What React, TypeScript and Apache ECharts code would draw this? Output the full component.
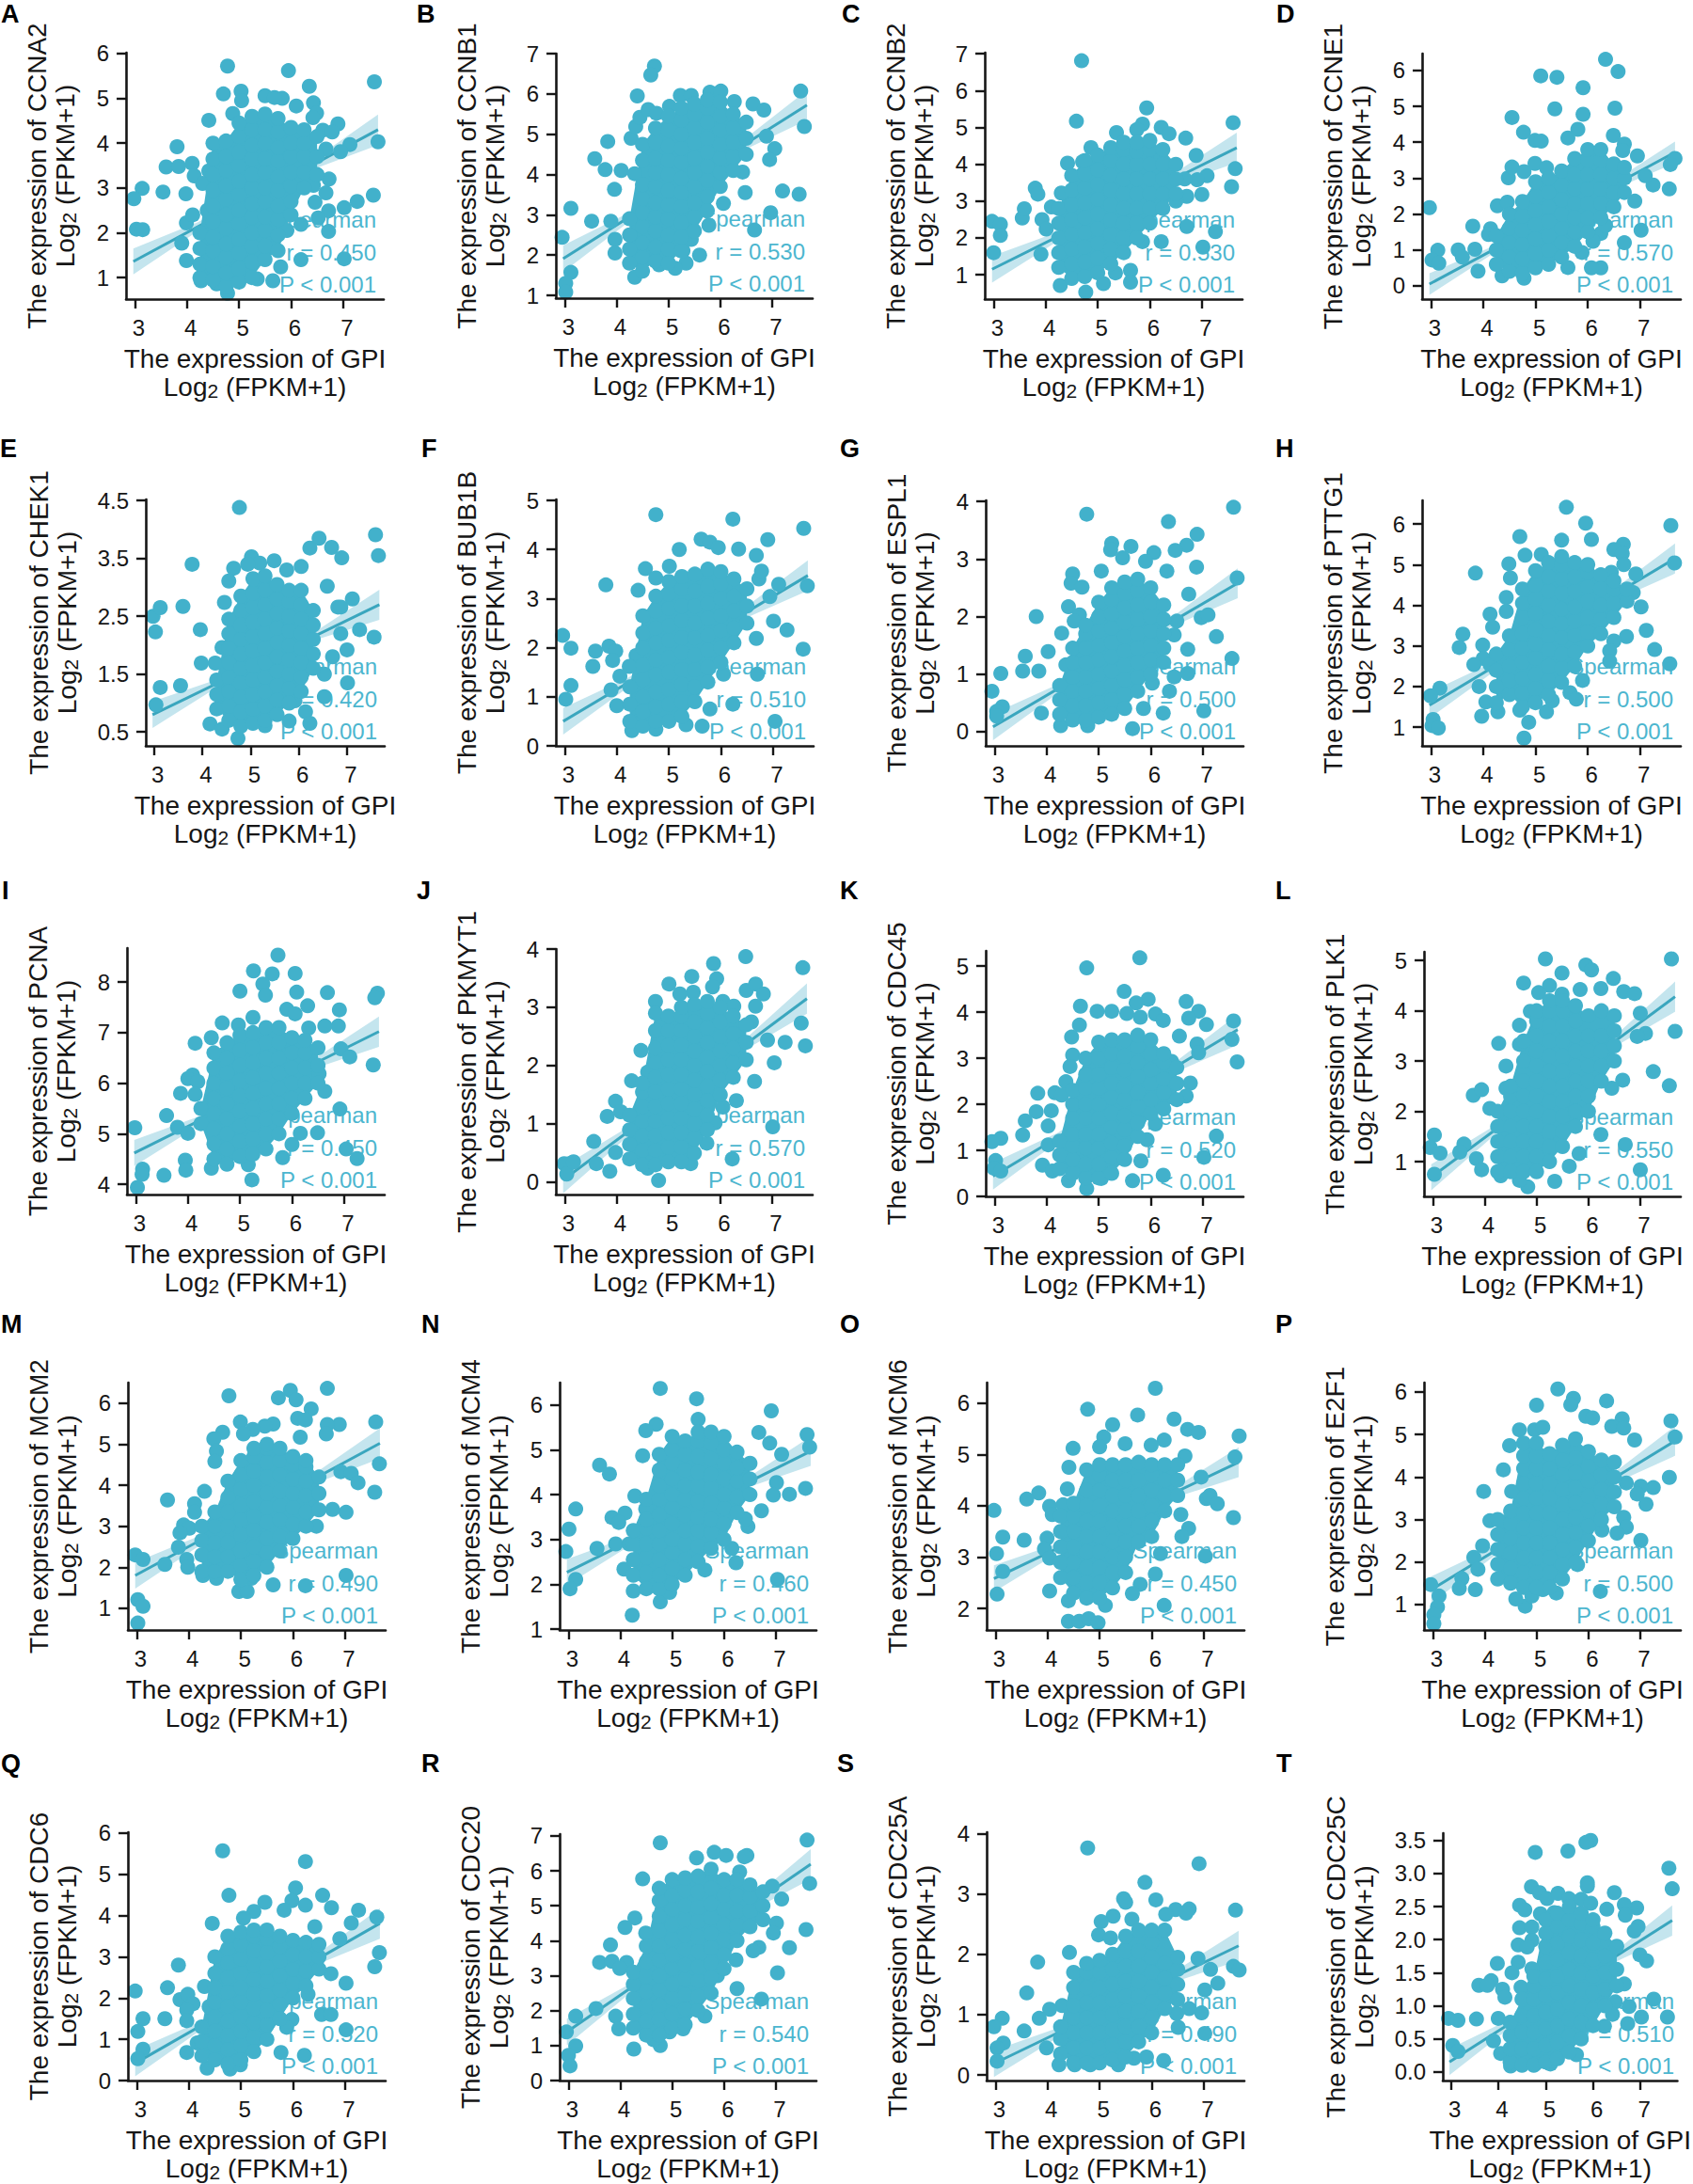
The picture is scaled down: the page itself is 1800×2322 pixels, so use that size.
import { useEffect, useRef } from 'react';
import * as echarts from 'echarts';

type Pt = [number, number];
type Col = [number, number[]];

const letters = ['A','B','C','D','E','F','G','H','I','J','K','L','M','N','O','P','Q','R','S','T'];
const genes = ['CCNA2','CCNB1','CCNB2','CCNE1','CHEK1','BUB1B','ESPL1','PTTG1','PCNA','PKMYT1','CDC45','PLK1','MCM2','MCM4','MCM6','E2F1','CDC6','CDC20','CDC25A','CDC25C'];
const rValues = ['0.450','0.530','0.530','0.570','0.420','0.510','0.500','0.500','0.450','0.570','0.520','0.550','0.490','0.460','0.450','0.500','0.520','0.540','0.490','0.510'];
const xTicks = [3, 4, 5, 6, 7];
const yTicks = [
  [1,2,3,4,5,6],[1,2,3,4,5,6,7],[1,2,3,4,5,6,7],[0,1,2,3,4,5,6],[0.5,1.5,2.5,3.5,4.5],
  [0,1,2,3,4,5],[0,1,2,3,4],[1,2,3,4,5,6],[4,5,6,7,8],[0,1,2,3,4],
  [0,1,2,3,4,5],[1,2,3,4,5],[1,2,3,4,5,6],[1,2,3,4,5,6],[2,3,4,5,6],
  [1,2,3,4,5,6],[0,1,2,3,4,5,6],[0,1,2,3,4,5,6,7],[0,1,2,3,4],[0,0.5,1,1.5,2,2.5,3,3.5],
];
const yRanges: Pt[] = [
  [0.52,6.02],[0.93,7],[0.34,7.03],[-0.37,6.47],[0.26,4.52],
  [0,5.02],[-0.25,4.02],[0.54,6.58],[3.8,8.67],[-0.21,4],
  [0,5.33],[0.31,5.17],[0.47,6.5],[0.98,6.5],[1.58,6.4],
  [0.4,6.22],[0,6.02],[0,7.05],[-0.09,4.02],[-0.13,3.61],
];
// y of the fitted line at x = 2.97 and x = 7.67
const lineEnds: Pt[] = [
  [1.36,4.3],[1.91,5.72],[1.15,4.45],[0.05,3.72],[0.8,2.7],
  [0.5,3.47],[0.08,2.58],[1.54,5.15],[4.62,7.02],[0.04,3.15],
  [0.44,3.62],[0.69,4.28],[1.8,5.02],[2.27,4.97],[2.58,4.85],
  [1.35,4.85],[0.42,3.81],[1.39,6.19],[0.19,2.14],[0.15,2.29],
];
// half width of the confidence band at bandX
const bandX = [2.97, 4.2, 6.4, 7.67];
const bandHalf = [
  [0.29,0.1,0.1,0.34],[0.33,0.12,0.12,0.37],[0.36,0.13,0.13,0.41],[0.3,0.1,0.1,0.3],[0.23,0.08,0.08,0.26],
  [0.27,0.1,0.1,0.31],[0.23,0.08,0.08,0.26],[0.32,0.12,0.12,0.37],[0.26,0.09,0.09,0.3],[0.23,0.08,0.08,0.26],
  [0.29,0.1,0.1,0.33],[0.26,0.09,0.09,0.3],[0.32,0.12,0.12,0.37],[0.29,0.1,0.1,0.33],[0.26,0.09,0.09,0.29],
  [0.31,0.11,0.11,0.35],[0.32,0.11,0.11,0.37],[0.38,0.13,0.13,0.43],[0.22,0.08,0.08,0.25],[0.2,0.07,0.07,0.23],
];

const outerA: Pt[] = [[4.78,5.72],[5.95,5.62],[7.6,5.37],[6.35,5.27],[4.7,5.1],[5.04,5.16],[5.05,4.95],[5.5,5.06],[5.83,5],[5.68,5.02],[6.43,4.9],[6.1,4.83],[6.49,4.67],[6.42,4.57],[4.88,4.66],[4.42,4.51],[6.9,4.43],[7.67,4.03],[7.13,3.97],[6.95,3.81],[6.67,3.87],[3.81,3.92],[3.6,3.47],[3.84,3.48],[4.1,3.55],[4.42,3.38],[4.14,3.27],[4.3,3.1],[3.14,2.99],[3.54,2.91],[3.98,2.87],[2.98,2.76],[3.03,2.08],[3.15,2.07],[3.99,2.22],[4.11,2.4],[4.39,2.5],[3.9,1.77],[3.99,1.38],[7.58,2.84],[7.27,2.7],[7.02,2.56],[6.72,2.49],[6.46,2.68],[6.67,2.89],[6.73,3.2],[6.43,3.06],[6.52,2.33],[6.72,2.03],[6.19,2.19],[5.92,2.05],[6.19,1.4],[7.02,1.42],[5.8,1.24],[5.65,0.93],[4.78,0.65],[4.27,0.93],[4.57,0.86],[5.35,0.97],[6.61,4.29],[6.79,4.25]];
const coreA: Col[] = [[4.25,[1,1.3,1.65,2]],[4.5,[0.95,1.25,1.6,1.9,2.25,2.6,2.95,3.3,3.65,4]],[4.75,[0.8,1.1,1.45,1.75,2.1,2.4,2.75,3.05,3.4,3.7,4.05]],[5,[0.9,1.2,1.55,1.85,2.2,2.5,2.85,3.15,3.5,3.8,4.15,4.45]],[5.25,[1,1.35,1.7,2,2.35,2.65,3,3.3,3.65,3.95,4.3,4.6]],[5.5,[1.4,1.7,2.05,2.35,2.7,3,3.35,3.65,4,4.3,4.65]],[5.75,[1.6,1.95,2.3,2.6,2.95,3.25,3.6,3.9,4.25,4.55]],[6,[2.4,2.7,3.05,3.35,3.7,4,4.35]],[6.25,[3,3.35,3.7,4,4.3]],[6.5,[3.3,3.7,4.15]]];

const outerB: Pt[] = [[4.73,6.69],[4.66,6.47],[4.4,5.95],[7.55,6.07],[7.62,5.19],[5.23,5.96],[5.44,5.96],[5.8,6.04],[6.01,6.07],[6.27,5.81],[6.63,5.75],[6.84,5.6],[6.89,4.95],[7.05,4.64],[6.95,4.37],[7.2,3.59],[7.52,3.51],[6.97,3.05],[6.66,2.62],[6.48,3.55],[6.43,4.06],[6.06,3.28],[5.78,2.74],[5.6,2],[5.34,1.8],[5.13,1.67],[4.82,1.76],[4.35,1.45],[3.12,1.57],[3.02,1.3],[3.02,1.08],[2.95,2.44],[3.12,3.16],[3.52,2.84],[3.89,2.84],[3.97,2.39],[3.97,2.05],[3.96,3.63],[4.09,4.1],[3.78,4.12],[3.58,4.39],[3.83,4.82],[4.28,4.9],[4.37,5.19],[4.45,5.42],[4.61,5.61],[4.77,5.52],[5.02,5.69],[4.35,4.02],[5.44,2.39],[5.28,2.11]];
const coreB: Col[] = [[4.25,[1.8,2.15,2.5,2.9]],[4.5,[1.6,1.95,2.3,2.7,3.05,3.4,3.75,4.35,4.75]],[4.75,[1.85,2.2,2.6,2.95,3.3,3.7,4.05,4.4,4.8,5.15]],[5,[1.8,2.15,2.5,2.9,3.25,3.6,4,4.35,4.7,5.1,5.45]],[5.25,[2.1,2.45,2.8,3.2,3.55,3.9,4.3,4.65,5,5.35,5.65]],[5.5,[2.6,2.95,3.3,3.7,4.05,4.4,4.8,5.15,5.5,5.75]],[5.75,[3.1,3.45,3.85,4.2,4.55,4.9,5.3,5.65,5.85]],[6,[3.7,4.05,4.4,4.75,5.1,5.45,5.8]],[6.25,[4.1,4.45,4.8,5.15,5.5]],[6.5,[4.5,4.9,5.3]]];

const outerC: Pt[] = [[4.69,6.81],[5.94,5.53],[7.6,5.13],[4.59,5.17],[5.86,5.09],[5.36,4.86],[5.75,4.94],[6.22,5],[6.37,4.83],[6.69,4.71],[4.87,4.45],[4.42,4.03],[4.71,4.07],[7.64,3.88],[7.57,3.39],[7.1,3.69],[6.91,3.58],[6.89,4.24],[7,3.18],[6.71,3.13],[6.5,3],[6.71,2.31],[7.26,2.17],[6.22,1.9],[7.02,1.75],[5.86,1.9],[5.63,1.12],[5.63,0.8],[5.11,0.76],[4.77,0.53],[4.28,0.71],[5.34,1.05],[3,1.6],[2.97,2.45],[3.13,2.37],[3.13,2.07],[3.55,2.54],[3.59,2.79],[3.8,3.35],[3.85,3.19],[4.11,2.84],[3.93,2.5],[4.01,2.24],[3.91,1.56],[4.3,3.22],[6.22,2.88],[6.67,3.6]];
const coreC: Col[] = [[4.25,[1.2,1.6,2,2.4,2.8]],[4.5,[0.9,1.3,1.7,2.1,2.5,2.9,3.3,3.7]],[4.75,[0.95,1.35,1.75,2.15,2.55,2.95,3.35,3.75,4.1]],[5,[1.05,1.45,1.85,2.25,2.65,3.05,3.45,3.85,4.25]],[5.25,[1.3,1.7,2.1,2.5,2.9,3.3,3.7,4.1,4.45]],[5.5,[1.6,2,2.4,2.8,3.2,3.6,4,4.4,4.6]],[5.75,[2,2.4,2.8,3.2,3.6,4,4.35,4.6]],[6,[2.4,2.8,3.2,3.6,4,4.4,4.65]],[6.25,[2.8,3.2,3.6,4,4.4]],[6.5,[3.2,3.6,4]]];

const outerD: Pt[] = [[6.34,6.31],[6.58,5.97],[5.1,5.85],[5.41,5.81],[5.91,5.52],[5.37,4.93],[6.52,4.95],[5.91,4.78],[4.55,4.69],[4.77,4.28],[4.99,4.05],[5.11,4.03],[5.81,4.36],[5.62,4.12],[6.49,4.19],[6.7,3.95],[6.67,3.77],[6.95,3.62],[7.67,3.55],[7.58,3.38],[7.56,2.7],[7.25,2.81],[7.1,3.07],[6.9,2.36],[7.02,1.55],[6.7,1.2],[6.25,0.5],[6.07,0.5],[5.62,0.51],[2.97,2.18],[3.13,0.99],[3.02,0.72],[3.15,0.63],[3.52,1],[3.6,0.8],[3.8,1.66],[4.14,1.59],[4.1,1.43],[4.27,2.23],[4.46,2.33],[4.48,3.01],[4.55,3.31],[4.78,3.18],[4.99,3.41],[5.21,3.29],[3.84,1.02],[3.9,0.41],[4.78,0.21],[4.36,0.28],[5.89,0.93],[6.25,1.46],[6.34,1.68],[6.1,1.24]];
const coreD: Col[] = [[4.25,[0.6,1,1.4]],[4.5,[0.4,0.8,1.2,1.6,2]],[4.75,[0.35,0.75,1.15,1.55,1.95,2.35]],[5,[0.5,0.9,1.3,1.7,2.1,2.5,2.9]],[5.25,[0.6,1,1.4,1.8,2.2,2.6,3]],[5.5,[0.8,1.2,1.6,2,2.4,2.8,3.2]],[5.75,[1.1,1.5,1.9,2.3,2.7,3.1,3.55]],[6,[1.5,1.9,2.3,2.7,3.1,3.5,3.8]],[6.25,[1.9,2.3,2.7,3.1,3.5,3.8]],[6.5,[2.2,2.6,3,3.4]],[6.7,[2.6,3,3.3]]];

const outerE: Pt[] = [[4.77,4.38],[7.59,3.91],[7.65,3.55],[6.42,3.85],[6.23,3.68],[6.68,3.69],[6.89,3.51],[5.02,3.53],[4.65,3.33],[3.79,3.4],[5.49,3.46],[5.19,3.42],[4.94,3.4],[5.75,3.3],[6.05,3.36],[4.55,3.11],[6.59,3.02],[7.11,2.8],[6.81,2.66],[2.98,2.5],[3.13,2.65],[3.6,2.67],[3.03,2.23],[3.96,2.27],[7.26,2.27],[7.56,2.14],[7,1.92],[7.01,1.35],[6.53,1.11],[6.14,0.85],[6.23,0.65],[5.8,0.69],[4.74,0.39],[4.16,0.64],[3.13,1.27],[3.55,1.3],[3.04,0.97],[3.98,1.69],[4.27,1.69],[4.41,1.96],[4.46,2.74],[5.3,0.61],[6.53,1.5],[6.7,1.8],[6.87,2.2],[6.87,2.66],[4.41,0.55],[5.92,1.04]];
const coreE: Col[] = [[4.3,[0.9,1.15,1.4]],[4.55,[0.7,0.95,1.2,1.45,1.7,1.95,2.2,2.45]],[4.8,[0.6,0.85,1.1,1.35,1.6,1.85,2.1,2.35,2.6,2.85]],[5.05,[0.65,0.9,1.15,1.4,1.65,1.9,2.15,2.4,2.65,2.9,3.15]],[5.3,[0.7,0.95,1.2,1.45,1.7,1.95,2.2,2.45,2.7,2.95,3.2]],[5.55,[0.8,1.05,1.3,1.55,1.8,2.05,2.3,2.55,2.8,3.05]],[5.8,[1,1.25,1.5,1.75,2,2.25,2.5,2.75,2.95]],[6.05,[1.2,1.45,1.7,1.95,2.2,2.45,2.7,2.95]],[6.3,[1.6,1.85,2.1,2.35,2.6]]];

const outerF: Pt[] = [[4.75,4.71],[6.23,4.62],[7.59,4.43],[6.9,4.2],[5.62,4.21],[5.79,4.15],[5.95,4.04],[6.34,4.01],[6.68,3.88],[5.2,4],[4.55,3.61],[5.01,3.66],[4.75,3.42],[3.79,3.28],[4.41,3.17],[7.11,3.29],[7.66,3.26],[6.94,3.04],[6.73,3.4],[7.01,2.54],[7.27,2.36],[7.58,1.97],[6.68,2.19],[2.96,2.25],[3.12,1.99],[3.59,1.93],[3.54,1.62],[3.85,2.03],[3.98,1.93],[3.92,1.74],[4.37,1.84],[4.24,1.62],[4.06,1.42],[3.12,1.23],[3.02,0.95],[3.89,1.14],[4,0.82],[6.7,1.46],[6.23,0.85],[7.04,0.5],[5.64,0.4],[5.79,0.75],[4.75,0.34],[4.29,0.31],[5.33,0.43],[6.05,1.46],[6.78,3.56]];
const coreF: Col[] = [[4.25,[0.5,0.85,1.2]],[4.5,[0.4,0.7,1,1.35,1.65,2,2.3,2.65]],[4.75,[0.5,0.8,1.1,1.45,1.75,2.1,2.4,2.75,3.05]],[5,[0.5,0.85,1.15,1.5,1.8,2.15,2.45,2.8,3.1,3.35]],[5.25,[0.6,0.9,1.25,1.55,1.9,2.2,2.55,2.85,3.2,3.45]],[5.5,[0.9,1.2,1.55,1.85,2.2,2.5,2.85,3.15,3.5]],[5.75,[1.3,1.6,1.95,2.25,2.6,2.9,3.25,3.6]],[6,[1.7,2,2.35,2.65,3,3.3,3.55]],[6.25,[2.1,2.4,2.75,3.05,3.4]],[6.5,[2.5,2.85,3.2]]];

const outerG: Pt[] = [[7.59,3.9],[4.77,3.78],[6.34,3.65],[6.89,3.43],[6.69,3.24],[6.47,3.15],[6.06,3.11],[5.25,3.27],[5.62,3.22],[5.23,3.16],[5.46,3.02],[5.9,2.96],[6.88,2.86],[7.66,2.67],[4.5,2.74],[4.47,2.58],[5.05,2.79],[6.31,2.79],[4.68,2.51],[6.73,2.39],[4.42,2.17],[3.8,2],[4.63,2.03],[4.53,1.92],[6.97,1.98],[7.1,2.03],[7.26,1.65],[4.29,1.71],[4.03,1.39],[3.59,1.31],[3.54,1.05],[3.85,1.05],[7.56,1.27],[3.12,1.01],[4.37,1.16],[2.95,0.7],[3.15,0.43],[3.04,0.35],[3.04,0.27],[6.71,1.01],[6.45,0.95],[6.03,0.84],[6.36,0.7],[6.24,0.32],[7.02,0.36],[5.65,0.05],[5.86,0.4],[4.27,0.1],[4.79,0.1],[3.9,0.32],[6.71,1.43],[6.45,1.68],[6.5,1.92]];
const coreG: Col[] = [[4.25,[0.3,0.55,0.8]],[4.5,[0.2,0.45,0.7,0.95,1.2,1.45]],[4.75,[0.2,0.45,0.7,0.95,1.2,1.45,1.7,1.85]],[5,[0.25,0.5,0.75,1,1.25,1.5,1.75,2,2.25]],[5.25,[0.3,0.55,0.8,1.05,1.3,1.55,1.8,2.05,2.3,2.5]],[5.5,[0.4,0.65,0.9,1.15,1.4,1.65,1.9,2.15,2.4,2.6]],[5.75,[0.7,0.95,1.2,1.45,1.7,1.95,2.2,2.45,2.65]],[6,[1,1.25,1.5,1.75,2,2.25,2.5]],[6.25,[1.2,1.45,1.7,1.95,2.2]]];

const outerH: Pt[] = [[5.59,6.41],[7.59,5.96],[5.96,6.02],[4.7,5.69],[7.66,5.04],[5.5,5.6],[6.07,5.62],[6.68,5.5],[6.5,5.37],[6.66,5.27],[6.69,5],[3.85,4.79],[4.49,5.02],[4.8,5.23],[4.52,4.67],[5.11,5.25],[6.45,4.81],[6.92,4.77],[6.87,4.31],[7.02,3.96],[4.44,4.19],[4.13,3.78],[4.44,3.85],[4.18,3.46],[3.61,3.29],[3.54,2.96],[3.99,3.02],[4,2.69],[3.82,2.54],[4.13,2.54],[7.12,3.38],[7.28,2.91],[7.57,2.56],[6.74,3.23],[6.5,3.12],[6.42,2.88],[6.42,2.62],[5.9,2.15],[5.66,1.85],[5.78,1.69],[3.17,1.96],[2.99,1.77],[3.92,2],[4.05,1.62],[3.97,1.27],[3.04,1.19],[3.02,1.04],[3.14,0.98],[4.28,1.38],[4.78,0.73],[4.87,1.12],[5.21,1.38],[5.32,1.65],[4.7,1.42]];
const coreH: Col[] = [[4.25,[1.6,2,2.4,2.8]],[4.5,[1.8,2.15,2.5,2.9,3.25]],[4.75,[1.5,1.85,2.2,2.6,2.95,3.3,3.7,4.05,4.4]],[5,[1.6,1.95,2.3,2.7,3.05,3.4,3.8,4.15,4.5,4.85]],[5.25,[1.8,2.15,2.5,2.9,3.25,3.6,4,4.35,4.7,5.05]],[5.5,[2.1,2.45,2.8,3.2,3.55,3.9,4.3,4.65,5,5.2]],[5.75,[2.5,2.85,3.25,3.6,3.95,4.35,4.7,5.05]],[6,[3,3.35,3.7,4.1,4.45,4.8,5]],[6.25,[3.3,3.65,4,4.4,4.75]],[6.5,[3.7,4.05,4.4,4.6]],[6.75,[4.1,4.4]]];

const outerI: Pt[] = [[5.73,8.53],[5.26,8.22],[5.62,8.16],[6.06,8.17],[5.44,7.96],[5,7.82],[5.49,7.74],[6.09,7.8],[6.68,7.79],[7.64,7.78],[7.59,7.69],[5.9,7.46],[6.06,7.37],[6.3,7.53],[6.91,7.45],[5.25,7.3],[4.66,7.19],[4.97,7.15],[6.89,7.13],[6.63,7.13],[6.32,7.09],[4.14,6.79],[4.45,6.9],[6.94,6.68],[7.11,6.52],[7.56,6.36],[4.09,6.16],[4,6.09],[4.19,6.03],[3.86,5.8],[4.14,5.78],[3.59,5.36],[6.92,5.49],[2.98,5.12],[3.8,5.13],[4,5.01],[3.13,4.3],[3.12,4.2],[3.03,3.94],[3.54,4.18],[3.95,4.48],[3.96,4.28],[5.23,4.09],[5.16,4.39],[4.45,4.32],[5.82,4.53],[7.04,4.7],[7.25,4.51],[6.49,5.02],[6.16,5.01],[6,4.79],[6.63,5.84],[6.52,6.19]];
const coreI: Col[] = [[4.25,[5.2,5.5]],[4.5,[4.5,4.8,5.1,5.4,5.7,6,6.3,6.6]],[4.75,[4.4,4.7,5,5.3,5.6,5.9,6.2,6.5,6.8]],[5,[4.55,4.85,5.15,5.45,5.75,6.05,6.35,6.65,6.95]],[5.25,[4.6,4.9,5.2,5.5,5.8,6.1,6.4,6.7,7]],[5.5,[4.7,5,5.3,5.6,5.9,6.2,6.5,6.8,7.1]],[5.75,[5,5.3,5.6,5.9,6.2,6.5,6.8,7.1]],[6,[5.4,5.7,6,6.3,6.6,6.9]],[6.25,[5.7,6,6.3,6.6,6.85]],[6.5,[6,6.35,6.7]]];

const outerJ: Pt[] = [[6.49,3.87],[5.87,3.75],[7.59,3.68],[5.45,3.53],[5.93,3.49],[5.01,3.4],[5.85,3.35],[5.48,3.26],[6.5,3.29],[6.68,3.4],[6.83,3.23],[5.22,3.23],[4.75,3.1],[6.05,3.1],[6.68,3.02],[6.26,3.02],[7.56,2.73],[6.6,2.75],[7.64,2.34],[7.25,2.4],[6.91,2.44],[7.04,2.05],[4.47,2.26],[4.29,1.74],[6.66,1.73],[4.6,1.89],[3.98,1.39],[4.08,1.21],[6.31,1.4],[3.82,1.13],[7.01,0.95],[3.56,0.7],[6.23,0.4],[4.81,0.03],[3.61,0.32],[3.87,0.19],[3.09,0.32],[2.99,0.32],[3.04,0.14],[3.17,0.35],[3.98,0.51],[4.6,0.24],[5.43,0.32],[5.74,0.67],[6.05,1.29],[5.9,1.02]];
const coreJ: Col[] = [[4.25,[0.4,0.65,0.9,1.15]],[4.5,[0.3,0.55,0.8,1.05,1.3,1.55,1.7]],[4.75,[0.3,0.55,0.8,1.05,1.3,1.55,1.8,2.05,2.3,2.6,2.9]],[5,[0.35,0.6,0.85,1.1,1.35,1.6,1.85,2.1,2.35,2.6,2.85]],[5.25,[0.35,0.6,0.85,1.1,1.35,1.6,1.85,2.1,2.35,2.6,2.85,3]],[5.5,[0.5,0.75,1,1.25,1.5,1.75,2,2.25,2.5,2.75,3.05]],[5.75,[0.9,1.15,1.4,1.65,1.9,2.15,2.4,2.65,2.9,3.1]],[6,[1.5,1.75,2,2.25,2.5,2.75,3]],[6.25,[1.8,2.05,2.3,2.55,2.85]],[6.5,[2.1,2.4,2.7]]];

const outerK: Pt[] = [[5.79,5.18],[4.77,4.96],[5.49,4.45],[5.95,4.28],[5.72,4.2],[6.68,4.23],[4.65,4.13],[4.97,4.02],[5.25,4.02],[5.54,3.97],[5.8,3.89],[6.09,3.96],[6.24,3.82],[6.92,4.02],[6.73,3.87],[7.07,3.73],[7.59,3.81],[7.56,3.41],[7.66,2.92],[4.63,3.72],[4.48,3.46],[6.55,3.48],[6.89,3.31],[6.92,3.12],[4.5,3.07],[4.45,2.82],[4.37,2.49],[3.83,2.24],[4.16,2.25],[4.29,2.2],[3.8,1.84],[4.09,1.86],[4.03,1.53],[3.59,1.64],[3.54,1.33],[3.12,1.26],[2.95,1.19],[4.03,1.12],[3.02,0.78],[2.99,0.61],[3.12,0.55],[3.92,0.68],[4.11,0.55],[7.26,1.31],[7.02,0.85],[5.65,0.34],[6.24,0.46],[5.81,0.77],[4.77,0.17],[4.42,0.34],[5.05,0.39],[6.76,2.46],[6.68,2.18],[5.93,1.23],[6.09,1.57],[6.4,2.93]];
const coreK: Col[] = [[4.25,[0.6,0.9,1.2]],[4.5,[0.5,0.8,1.1,1.35,1.7,2,2.3]],[4.75,[0.4,0.7,1.05,1.35,1.7,2,2.35,2.65,3]],[5,[0.4,0.7,1.05,1.35,1.7,2,2.35,2.65,3,3.35]],[5.25,[0.5,0.85,1.15,1.5,1.8,2.15,2.45,2.8,3.1,3.4]],[5.5,[0.8,1.1,1.45,1.75,2.1,2.4,2.75,3.05,3.4]],[5.75,[1.3,1.6,1.95,2.25,2.6,2.9,3.25,3.5]],[6,[1.8,2.1,2.45,2.75,3.1,3.4]],[6.25,[1.9,2.25,2.55,2.9,3.1]],[6.5,[2.1,2.45,2.8]]];

const outerL: Pt[] = [[7.6,5.03],[5.17,5.03],[5.95,4.91],[6.06,4.81],[5.49,4.75],[6.48,4.64],[4.75,4.55],[5.25,4.5],[5.84,4.42],[6.24,4.44],[6.68,4.38],[6.89,4.34],[5.04,4.36],[5.49,4.33],[7,3.95],[7.67,3.59],[7.1,3.55],[6.94,3.49],[4.88,3.99],[4.67,3.71],[4.27,3.35],[4.67,3.33],[7.25,2.79],[7.56,2.51],[6.66,2.62],[6.45,2.46],[4.41,2.9],[3.78,2.32],[3.94,2.43],[4.41,2.46],[4.1,2.06],[6.24,1.54],[6.71,1.34],[7,0.84],[3.03,1.53],[2.95,1.28],[3.14,1.17],[3.03,0.75],[3.6,1.35],[3.52,1.19],[3.84,1.06],[3.94,0.84],[4.83,0.5],[4.67,0.63],[5.35,0.61],[5.63,0.91],[5.82,1.16],[4.31,0.72]];
const coreL: Col[] = [[4.25,[0.8,1.1,1.4,1.7,2]],[4.5,[0.8,1.1,1.4,1.7,2,2.3,2.5]],[4.75,[0.8,1.1,1.4,1.7,2,2.3,2.6,3,3.4]],[5,[0.8,1.1,1.4,1.7,2,2.3,2.6,2.9,3.2,3.5,3.8,4]],[5.25,[1,1.3,1.6,1.9,2.2,2.5,2.8,3.1,3.4,3.7,4,4.2]],[5.5,[1.3,1.6,1.9,2.2,2.5,2.8,3.1,3.4,3.7,4,4.2]],[5.75,[1.7,2,2.3,2.6,2.9,3.2,3.5,3.8,4.1]],[6,[2,2.3,2.6,2.9,3.2,3.5,3.9]],[6.25,[2.6,2.9,3.2,3.5,4]],[6.5,[3,3.3,3.6,3.9]]];

const outerM: Pt[] = [[6.66,6.36],[4.77,6.18],[5.95,6.31],[5.72,6.13],[6.06,6.08],[6.35,5.86],[6.09,5.63],[6.24,5.59],[7.59,5.54],[4.99,5.54],[6.89,5.48],[6.66,5.48],[6.64,5.25],[4.65,5.29],[4.48,5.13],[5.62,5.49],[5.46,5.44],[5.23,5.36],[5.05,5.25],[4.53,4.83],[4.5,4.58],[6.14,5.17],[7.66,4.52],[6.92,4.33],[7.12,4.29],[7.25,4.06],[7.57,3.83],[7.02,3.34],[3.59,3.64],[4.11,3.55],[4.11,3.34],[4.3,3.85],[3.9,3.03],[4.01,2.95],[3.83,2.84],[3.8,2.49],[3.54,2.07],[3.96,2.19],[3.98,2],[2.97,2.3],[3.12,2.19],[3.02,1.21],[3.12,1.05],[3.02,0.64],[4.96,1.41],[5.12,1.41],[5.62,1.57],[6.24,1.55],[7.02,1.8],[5.2,1.73],[4.27,1.8],[4.53,1.73],[6.76,3.41],[6.45,3]];
const coreM: Col[] = [[4.25,[1.9,2.3,2.65,3]],[4.5,[1.9,2.25,2.6,3,3.35]],[4.75,[1.9,2.25,2.6,3,3.35,3.7,4.1]],[5,[1.7,2.05,2.4,2.8,3.15,3.5,3.9,4.25,4.6]],[5.25,[1.8,2.15,2.5,2.9,3.25,3.6,4,4.35,4.7,4.9]],[5.5,[2,2.35,2.7,3.1,3.45,3.8,4.2,4.55,4.9,5]],[5.75,[2.4,2.75,3.15,3.5,3.85,4.25,4.6,4.9]],[6,[2.7,3.05,3.45,3.8,4.15,4.5,4.7]],[6.25,[3,3.35,3.75,4.1,4.45,4.6]],[6.5,[3.4,3.8,4.2]]];

const outerN: Pt[] = [[4.77,6.37],[5.47,6.14],[6.91,5.87],[5.5,5.68],[4.69,5.57],[4.49,5.43],[7.6,5.34],[7.65,5.06],[6.67,5.39],[6.88,5.15],[3.6,4.66],[3.79,4.46],[7.11,4.9],[7.57,4.14],[7.26,4.01],[7.01,4.27],[6.95,3.99],[3.14,3.68],[3.01,3.23],[2.95,2.73],[3.14,2.11],[3.03,1.9],[3.84,3.49],[4.09,3.59],[3.97,3.38],[3.55,2.8],[4.23,1.31],[4.77,1.61],[5.63,2.32],[6.23,2.48],[7.03,2.11],[4.28,3.97],[4.43,4.87],[6.72,3.64],[6.46,3.29],[6.41,3.46],[4.49,3.68],[3.91,2.9],[4.17,2.9],[4.25,1.85],[6.15,2.8],[4.95,1.82],[4.07,2.34]];
const coreN: Col[] = [[4.25,[2.2,2.55,2.9,3.2]],[4.5,[1.9,2.25,2.6,2.9,3.25,3.45,3.9]],[4.75,[1.9,2.2,2.55,2.9,3.2,3.55,3.9,4.2,4.55,4.9]],[5,[2,2.35,2.7,3,3.35,3.7,4,4.35,4.7,5,5.3]],[5.25,[2.2,2.55,2.9,3.2,3.55,3.9,4.2,4.55,4.9,5.2]],[5.5,[2.5,2.85,3.2,3.5,3.85,4.2,4.5,4.85,5.2,5.4]],[5.75,[2.8,3.15,3.45,3.8,4.15,4.45,4.8,5.15,5.4]],[6,[3,3.35,3.7,4,4.35,4.7,5,5.3]],[6.25,[3.6,3.95,4.3,4.6,4.95]],[6.5,[4,4.35,4.7]]];

const outerO: Pt[] = [[6.07,6.29],[4.77,5.88],[5.73,5.77],[5.25,5.58],[6.43,5.69],[6.69,5.49],[6.9,5.43],[7.68,5.36],[5.08,5.34],[6.24,5.28],[7.6,4.95],[4.49,5.12],[5,5.15],[5.49,5.21],[5.99,5.18],[6.64,4.97],[4.41,4.75],[6.95,4.56],[4.38,4.33],[3.83,4.25],[3.6,4.13],[7.05,4.14],[7.12,4.2],[7.26,4.04],[7.57,3.77],[2.97,3.91],[4.04,3.99],[4.09,3.83],[4.3,4.02],[6.56,3.83],[6.71,3.56],[6.58,3.4],[3.14,3.39],[3.55,3.33],[3.99,3.37],[3.94,3.16],[3.02,3.07],[4.04,2.98],[7.03,3.02],[3.14,2.72],[3.03,2.28],[6.07,2.67],[5.78,2.47],[5.63,2.29],[4.04,2.34],[6.24,2.06],[4.4,1.75],[4.61,1.75],[4.79,1.8],[4.97,1.72],[5.11,2.06],[4.4,2.15],[6.17,3.07]];
const coreO: Col[] = [[4.25,[2.6,2.9,3.2,3.5,3.8]],[4.5,[2.3,2.6,2.9,3.2,3.5,3.8,4.05]],[4.75,[2.2,2.5,2.8,3.1,3.4,3.7,4,4.3,4.7]],[5,[2.2,2.5,2.8,3.1,3.4,3.7,4,4.3,4.6,4.8]],[5.25,[2.4,2.7,3,3.3,3.6,3.9,4.2,4.5,4.8]],[5.5,[2.7,3,3.3,3.6,3.9,4.2,4.5,4.8]],[5.75,[3.3,3.6,3.9,4.2,4.5,4.85]],[6,[3.4,3.7,4,4.3,4.6,4.8]],[6.25,[3.9,4.2,4.5,4.8]],[6.5,[4.2,4.5,4.8]]];

const outerP: Pt[] = [[5.41,6.07],[6.35,5.79],[5.71,5.85],[5.66,5.7],[5,5.69],[5.95,5.43],[6.08,5.39],[7.59,5.32],[6.65,5.37],[6.45,5.19],[6.68,5.15],[7.67,4.94],[4.67,5.11],[4.96,5.11],[5.12,5.17],[6.89,4.87],[4.48,4.74],[4.36,4.17],[3.98,3.66],[4.52,3.66],[7.56,3.99],[7.25,3.75],[7.01,3.78],[6.94,3.6],[7.11,3.36],[6.73,3.86],[6.68,3.05],[6.73,2.82],[6.55,2.68],[6.26,2.75],[7.01,2.51],[4.1,2.97],[4.34,2.94],[3.96,2.38],[3.79,2.11],[3.87,1.83],[3.56,1.61],[3.51,1.38],[3.82,1.35],[2.96,1.47],[3.12,1.2],[3.09,0.94],[3.02,0.76],[3.02,0.55],[6.23,1.31],[4.78,0.96],[4.6,1.13],[4.91,1.2],[5.38,1.27],[5.12,1.35],[5.79,1.94]];
const coreP: Col[] = [[4.25,[1.6,1.95,2.3,2.65,3]],[4.5,[1.5,1.85,2.2,2.55,2.9,3.2]],[4.75,[1.4,1.75,2.1,2.45,2.8,3.15,3.5,3.85,4.2,4.5,4.8]],[5,[1.4,1.75,2.1,2.45,2.8,3.15,3.5,3.85,4.2,4.5,4.8]],[5.25,[1.4,1.75,2.1,2.45,2.8,3.15,3.5,3.85,4.2,4.55]],[5.5,[1.6,1.95,2.3,2.65,3,3.35,3.7,4.05,4.4,4.75]],[5.75,[2,2.35,2.7,3.05,3.4,3.75,4.1,4.45,4.9]],[6,[2.5,2.85,3.2,3.55,3.9,4.25,4.6]],[6.25,[3,3.35,3.7,4.05,4.4]],[6.5,[3.3,3.65,4,4.35]]];

const outerQ: Pt[] = [[4.65,5.57],[6.24,5.31],[6.05,4.67],[4.77,4.49],[6.57,4.49],[5.46,4.32],[5.98,4.36],[6.24,4.25],[6.74,4.19],[7.26,4.13],[5.83,4.13],[5.25,4.1],[5.05,3.94],[4.45,3.81],[7.61,3.96],[7.12,3.82],[6.42,3.73],[7.66,3.1],[7.57,2.76],[6.9,3.44],[3.8,2.8],[7.02,2.36],[3.59,2.25],[2.97,2.17],[3.83,1.96],[3.98,2.09],[4.08,1.86],[4.3,2.28],[3.54,1.5],[3.12,1.5],[3.02,1.19],[3.12,0.76],[3.02,0.53],[3.96,1.71],[3.96,1.45],[3.96,0.68],[4.35,0.3],[4.79,0.28],[4.99,0.38],[6.22,0.61],[7.02,1.23],[6.55,1.6],[6.73,1.6],[5.98,1.48],[5.88,1.29],[5.77,0.68],[6.29,2.09],[4.39,1.79],[6.45,2.85],[6.73,2.59],[4.16,0.91]];
const coreQ: Col[] = [[4.25,[0.6,0.95,1.3]],[4.5,[0.5,0.85,1.2,1.55,1.9,2.25,2.6,3]],[4.75,[0.4,0.75,1.1,1.45,1.8,2.15,2.5,2.85,3.2,3.5]],[5,[0.5,0.85,1.2,1.55,1.9,2.25,2.6,2.95,3.3,3.6]],[5.25,[0.7,1.05,1.4,1.75,2.1,2.45,2.8,3.15,3.5,3.65]],[5.5,[1,1.35,1.7,2.05,2.4,2.75,3.1,3.45,3.65]],[5.75,[1.5,1.85,2.2,2.55,2.9,3.25,3.5]],[6,[2,2.35,2.7,3.05,3.4]],[6.25,[2.3,2.65,3,3.35]],[6.5,[2.7,3,3.3]]];

const outerR: Pt[] = [[4.77,6.8],[7.6,6.88],[5.81,6.53],[5.47,6.37],[6.04,6.44],[6.44,6.44],[6.39,6.4],[7.65,5.64],[4.43,5.77],[6.3,5.97],[7.11,5.19],[6.93,5.56],[7.01,4.5],[6.95,4.22],[7.58,4.32],[7.26,3.8],[6.67,3.81],[6.56,3.71],[7.03,3.08],[4.28,4.65],[4.09,4.38],[4.49,4.22],[3.81,3.88],[3.6,3.38],[3.84,3.41],[4.12,3.38],[3.99,3.21],[6.23,3.45],[5.87,3],[6.25,2.63],[6.72,2.33],[3.53,2.06],[3.14,1.84],[3.91,1.84],[3.97,1.48],[2.96,1.39],[3.14,0.99],[3,0.72],[3.03,0.42],[4.26,0.9],[4.77,1],[4.64,1.17],[5.63,1.84],[5.21,1.48],[4.95,1.39],[6.1,3.99]];
const coreR: Col[] = [[4.25,[1.5,1.9,2.35,2.75,3.1]],[4.5,[1.3,1.7,2.15,2.55,3,3.4,3.85]],[4.75,[1.3,1.75,2.15,2.6,3,3.45,3.85,4.3,4.7,5.15,5.5]],[5,[1.5,1.9,2.35,2.75,3.2,3.6,4.05,4.45,4.9,5.3,5.75]],[5.25,[1.6,2.05,2.45,2.9,3.3,3.75,4.15,4.6,5,5.45,5.8]],[5.5,[2,2.4,2.85,3.25,3.7,4.1,4.55,4.95,5.4,5.85]],[5.75,[2.5,2.95,3.35,3.8,4.2,4.65,5.05,5.5,6.05]],[6,[3.2,3.6,4.05,4.45,4.9,5.3,5.75]],[6.25,[4,4.45,4.85,5.3,5.75]],[6.5,[4.4,4.85,5.25,5.6]],[6.75,[4.6,5,5.4]]];

const outerS: Pt[] = [[4.77,3.76],[6.91,3.5],[5.87,3.19],[5.46,2.92],[5.5,2.86],[6.08,2.9],[7.61,2.73],[6.46,2.74],[6.72,2.75],[6.27,2.66],[5.26,2.63],[6.66,2.68],[5.03,2.54],[5.62,2.58],[4.98,2.32],[5.21,2.27],[4.42,2.03],[3.81,1.87],[7.57,1.8],[7.68,1.74],[7.13,1.75],[6.89,1.93],[7.27,1.52],[7.02,1.41],[6.96,1.03],[3.6,1.36],[4.28,1.15],[4.04,1.09],[3.84,0.94],[3.13,0.94],[2.97,0.8],[3.55,0.73],[6.51,0.79],[7.02,0.69],[3.15,0.53],[3.03,0.45],[3.03,0.23],[6.23,0.24],[5.9,0.3],[3.98,0.45],[4.22,0.17],[4.52,0.17],[4.82,0.17],[5.36,0.17],[5.66,0.28],[6.48,1.02],[6.72,1.1]];
const coreS: Col[] = [[4.25,[0.35,0.6,0.8]],[4.5,[0.2,0.45,0.7,0.95,1.15,1.45,1.7]],[4.75,[0.2,0.45,0.7,0.95,1.2,1.45,1.7,1.85]],[5,[0.2,0.45,0.7,0.95,1.2,1.45,1.7,1.9]],[5.25,[0.25,0.5,0.75,1,1.25,1.5,1.75,2]],[5.5,[0.3,0.55,0.8,1.05,1.3,1.55,1.8,2.05,2.3]],[5.75,[0.55,0.8,1.05,1.3,1.55,1.8,2.05,2.4]],[6,[0.7,0.95,1.2,1.45,1.7,1.95,2.2,2.4]],[6.25,[1.1,1.35,1.6,1.85,2.4]],[6.5,[1.25,1.5,1.75,1.95]]];

const outerT: Pt[] = [[5.95,3.5],[5.85,3.47],[4.78,3.32],[5.47,3.34],[7.6,3.08],[7.67,2.77],[5.88,2.86],[5.88,2.81],[4.7,2.8],[4.87,2.71],[5.03,2.62],[5.26,2.7],[6.45,2.71],[5.49,2.62],[5.75,2.61],[5.95,2.55],[6.92,2.48],[6.66,2.53],[6.29,2.46],[6.68,2.37],[4.45,2.52],[4.56,2.45],[4.89,2.39],[5.18,2.41],[6.95,2.2],[6.87,2.13],[4.45,2.18],[4.71,2.19],[4.71,1.99],[4.42,1.92],[4.61,1.89],[6.99,1.77],[7.13,1.68],[3.98,1.64],[4.42,1.66],[4.29,1.5],[4.71,1.56],[3.85,1.38],[3.59,1.31],[3.77,1.31],[4.09,1.25],[4.14,1.13],[4.48,1.28],[6.66,1.33],[7.28,1.1],[6.47,1.06],[6.76,0.99],[6.41,0.87],[7.02,0.83],[7.57,0.83],[2.95,0.81],[3.15,0.78],[3.54,0.8],[4,0.81],[6.73,0.73],[6.24,0.69],[3.04,0.4],[3.15,0.31],[4.26,0.09],[4.78,0.12],[5.1,0.12],[5.65,0.26],[3.9,0.47],[4.05,0.28]];
const coreT: Col[] = [[4.25,[0.15,0.35,0.55,0.75]],[4.5,[0.1,0.35,0.6,0.85,1.1]],[4.75,[0.1,0.35,0.6,0.85,1.1,1.3,1.45]],[5,[0.15,0.4,0.65,0.9,1.15,1.4,1.65,1.9,2.1,2.3]],[5.25,[0.2,0.45,0.7,0.95,1.2,1.45,1.7,1.95,2.2,2.4]],[5.5,[0.3,0.55,0.8,1.05,1.3,1.55,1.8,2.05,2.3,2.5]],[5.75,[0.5,0.75,1,1.25,1.5,1.75,2,2.25,2.4]],[6,[0.7,0.95,1.2,1.45,1.7,1.95,2.2,2.3]],[6.25,[1,1.25,1.5,1.75,2.1]],[6.5,[1.3,1.55,1.9]]];

const outers = [outerA,outerB,outerC,outerD,outerE,outerF,outerG,outerH,outerI,outerJ,outerK,outerL,outerM,outerN,outerO,outerP,outerQ,outerR,outerS,outerT];
const cores = [coreA,coreB,coreC,coreD,coreE,coreF,coreG,coreH,coreI,coreJ,coreK,coreL,coreM,coreN,coreO,coreP,coreQ,coreR,coreS,coreT];

// layout in page pixels: [left, right, top, bottom] of each plot box
const boxes = [
  [134,408,56,318],[591,864,57,317],[1047,1321,56,318],[1512,1787,57,318],
  [155,409,531,793],[591,865,531,793],[1048,1322,532,793],[1512,1787,532,793],
  [135,409,1008,1270],[591,864,1009,1270],[1048,1322,1011,1272],[1514,1787,1012,1272],
  [136,410,1470,1733],[595,868,1470,1733],[1049,1323,1470,1733],[1514,1787,1470,1733],
  [136,410,1948,2212],[595,868,1950,2212],[1049,1323,1948,2212],[1534,1788,1949,2212],
];
const letterPos = [
  [1,15],[443,15],[895,15],[1357,15],
  [0,477],[448,477],[893,477],[1356,477],
  [2,947],[443,947],[893,947],[1356,947],
  [1,1408],[448,1408],[893,1408],[1356,1408],
  [1,1875],[448,1875],[890,1875],[1357,1875],
];

const FONT = 'Liberation Sans';
const DOT = '#42b1cb';
const LINE = '#3aa6be';
const BAND = '#c4e5ee';
const INK = '#161616';

const titleRich = {
  n: { fontSize: 28, fontFamily: FONT, color: INK, lineHeight: 30 },
  s: { fontSize: 21, fontFamily: FONT, color: INK, lineHeight: 8, verticalAlign: 'bottom' as const },
};
const titleText = (first: string) => `${first}\n{n|Log}{s|2}{n| (FPKM+1)}`;

export default function App() {
  const ref = useRef<HTMLDivElement>(null);

  useEffect(() => {
    if (!ref.current) return;
    const chart = echarts.init(ref.current, undefined, { renderer: 'svg' });

    const grid: any[] = [];
    const xAxis: any[] = [];
    const yAxis: any[] = [];
    const series: any[] = [];
    const graphic: any[] = [];

    genes.forEach((gene, i) => {
      const [l, r, t, b] = boxes[i];
      const ticks = yTicks[i];
      const oneDecimal = ticks.some((v) => v % 1 !== 0);
      grid.push({ left: l, top: t, width: r - l, height: b - t, containLabel: false });
      xAxis.push({
        gridIndex: i, type: 'value', min: 2.83, max: 7.78, z: 3,
        name: titleText('The expression of GPI'), nameLocation: 'middle', nameGap: 48,
        nameTextStyle: { fontSize: 28, fontFamily: FONT, color: INK, lineHeight: 30, rich: titleRich },
        splitLine: { show: false },
        axisLine: { onZero: false, lineStyle: { color: INK, width: 2.6 } },
        axisTick: { length: 10, customValues: xTicks, lineStyle: { color: INK, width: 2.4 } },
        axisLabel: { customValues: xTicks, fontSize: 24, fontFamily: FONT, color: INK, margin: 18, padding: [0, 0, 0, 8] },
      });
      yAxis.push({
        gridIndex: i, type: 'value', min: yRanges[i][0], max: yRanges[i][1], z: 3,
        name: titleText(`The expression of ${gene}`), nameLocation: 'middle',
        nameGap: i === 4 || i === 19 ? 69 : 50,
        nameTextStyle: { fontSize: 28, fontFamily: FONT, color: INK, lineHeight: 30, rich: titleRich },
        splitLine: { show: false },
        axisLine: { onZero: false, lineStyle: { color: INK, width: 2.6 } },
        axisTick: { length: 10, customValues: ticks, lineStyle: { color: INK, width: 2.4 } },
        axisLabel: {
          customValues: ticks, fontSize: 24, fontFamily: FONT, color: INK, margin: 18,
          formatter: (v: number) => (oneDecimal ? v.toFixed(1) : String(v)),
        },
      });

      const [y0, y1] = lineEnds[i];
      const slope = (y1 - y0) / (7.67 - 2.97);
      const band = bandX.map((x, k) => {
        const mid = y0 + slope * (x - 2.97);
        return [x, mid - bandHalf[i][k], mid + bandHalf[i][k]];
      });
      series.push({
        type: 'custom', xAxisIndex: i, yAxisIndex: i, z: 1, silent: true,
        data: band, encode: { x: 0, y: 1 },
        renderItem: (p: any, api: any) => {
          if (p.dataIndex !== 0) return null;
          const upper = band.map((d) => api.coord([d[0], d[2]]));
          const lower = band.map((d) => api.coord([d[0], d[1]])).reverse();
          return { type: 'polygon', shape: { points: [...upper, ...lower] }, style: { fill: BAND } };
        },
      });
      series.push({
        type: 'line', xAxisIndex: i, yAxisIndex: i, z: 1, silent: true, symbol: 'none',
        data: [[2.97, y0], [7.67, y1]],
        lineStyle: { color: LINE, width: 3 },
      });

      // the points overlap into a solid mass: fill between each column's lowest and highest point
      const columns = cores[i];
      series.push({
        type: 'custom', xAxisIndex: i, yAxisIndex: i, z: 2, silent: true,
        data: columns.map(([x, ys]) => [x, ys[0], ys[ys.length - 1]]), encode: { x: 0, y: 1 },
        renderItem: (p: any, api: any) => {
          if (p.dataIndex !== 0) return null;
          const top = columns.map(([x, ys]) => api.coord([x, ys[ys.length - 1]]));
          const bottom = columns.map(([x, ys]) => api.coord([x, ys[0]])).reverse();
          return { type: 'polygon', shape: { points: [...top, ...bottom] }, style: { fill: DOT } };
        },
      });
      const points: Pt[] = [...outers[i]];
      columns.forEach(([x, ys]) => ys.forEach((y) => points.push([x, y])));
      series.push({
        type: 'scatter', xAxisIndex: i, yAxisIndex: i, z: 2, silent: true, clip: true,
        symbol: 'circle', symbolSize: 16, itemStyle: { color: DOT, opacity: 1 },
        data: points,
      });

      const notes = ['Spearman', `r = ${rValues[i]}`, 'P < 0.001'];
      const offsets = [85, 50, 16];
      notes.forEach((text, k) => {
        graphic.push({
          type: 'text', x: r - 8, y: b - offsets[k], silent: true,
          style: { text, fill: '#4cb6cf', font: `24px "${FONT}"`, textAlign: 'right', textVerticalAlign: 'middle' },
        });
      });
      graphic.push({
        type: 'text', x: letterPos[i][0], y: letterPos[i][1], silent: true,
        style: { text: letters[i], fill: '#000', font: `bold 27px "${FONT}"`, textAlign: 'left', textVerticalAlign: 'middle' },
      });
    });

    chart.setOption({ animation: false, backgroundColor: '#fff', grid, xAxis, yAxis, series, graphic });
    return () => chart.dispose();
  }, []);

  return <div ref={ref} style={{ position: 'absolute', left: 0, top: 0, width: 1800, height: 2322 }} />;
}
